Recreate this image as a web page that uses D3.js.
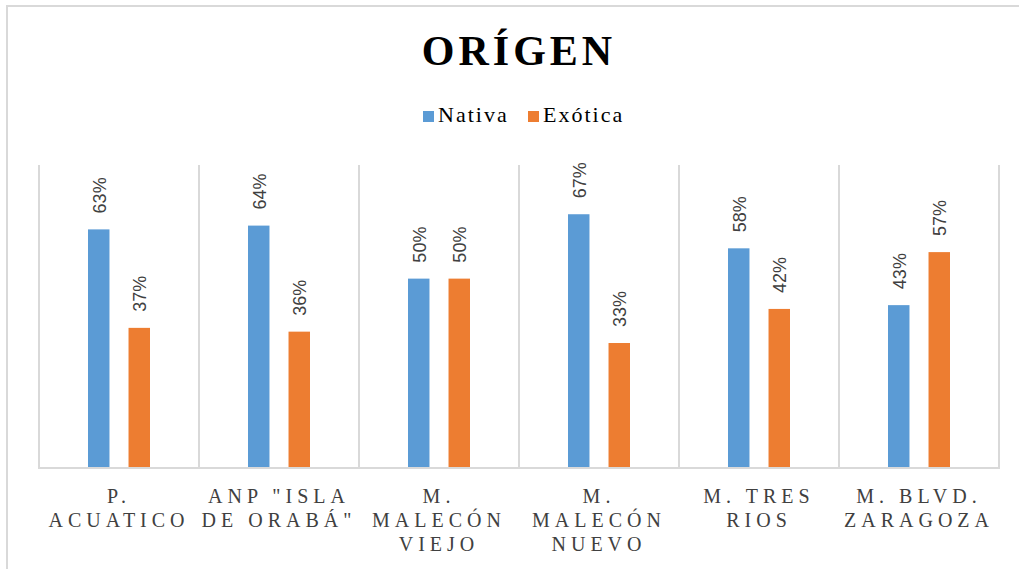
<!DOCTYPE html>
<html>
<head>
<meta charset="utf-8">
<script src="https://cdn.jsdelivr.net/npm/d3@7"></script>
<style>
  html, body { margin: 0; padding: 0; background: #fff; }
  svg { display: block; }
</style>
</head>
<body>
<svg id="chart" width="1019" height="569"></svg>
<script>
const title = "ORÍGEN";
const categories = ["P. ACUATICO", "ANP \"ISLA DE ORABÁ\"", "M. MALECÓN VIEJO", "M. MALECÓN NUEVO", "M. TRES RIOS", "M. BLVD. ZARAGOZA"];
const categoryLines = [
  ["P.", "ACUATICO"],
  ["ANP \"ISLA", "DE ORABÁ\""],
  ["M.", "MALECÓN", "VIEJO"],
  ["M.", "MALECÓN", "NUEVO"],
  ["M. TRES", "RIOS"],
  ["M. BLVD.", "ZARAGOZA"]
];
const seriesNames = ["Nativa", "Exótica"];
const nativa = [0.63, 0.64, 0.50, 0.67, 0.58, 0.43];
const exotica = [0.37, 0.36, 0.50, 0.33, 0.42, 0.57];
const colors = ["#5B9BD5", "#ED7D31"];

const svg = d3.select("#chart");
const W = 1019, H = 569;
const plot = { left: 39, right: 999, top: 165, bottom: 468 };
const grid = "#d9d9d9";

// outer chart border (only top/left visible)
svg.append("rect").attr("x", 7).attr("y", 6).attr("width", W + 20).attr("height", H + 20)
  .attr("fill", "#fff").attr("stroke", grid).attr("stroke-width", 2);

const x = d3.scaleBand().domain(categories).range([plot.left, plot.right]).padding(0);
const bw = x.bandwidth();
const xs = d3.scaleBand().domain(seriesNames).range([bw * 0.30625, bw * 0.69375]).paddingInner(0.47);
const y = d3.scaleLinear().domain([0, 0.8]).range([plot.bottom, plot.top]);

// vertical separators at category boundaries
const bounds = categories.map(c => x(c)).concat([plot.right]);
svg.append("g").selectAll("line").data(bounds).join("line")
  .attr("x1", d => d).attr("x2", d => d)
  .attr("y1", plot.top).attr("y2", plot.bottom)
  .attr("stroke", grid).attr("stroke-width", 2);

// baseline
svg.append("line").attr("x1", plot.left - 1).attr("x2", plot.right + 1)
  .attr("y1", plot.bottom).attr("y2", plot.bottom)
  .attr("stroke", grid).attr("stroke-width", 2);

const data = categories.map((c, i) => ({ cat: c, vals: [nativa[i], exotica[i]] }));

const groups = svg.append("g").selectAll("g").data(data).join("g")
  .attr("transform", d => `translate(${x(d.cat)},0)`);

groups.selectAll("rect").data(d => d.vals.map((v, j) => ({ s: seriesNames[j], v, j })))
  .join("rect")
  .attr("x", d => xs(d.s))
  .attr("width", xs.bandwidth())
  .attr("y", d => y(d.v))
  .attr("height", d => plot.bottom - 1 - y(d.v))
  .attr("fill", d => colors[d.j]);

groups.selectAll("text.lbl").data(d => d.vals.map((v, j) => ({ s: seriesNames[j], v, j })))
  .join("text").attr("class", "lbl")
  .attr("transform", d => `translate(${xs(d.s) + xs.bandwidth() / 2 + 1},${y(d.v) - 16}) rotate(-90)`)
  .attr("text-anchor", "start")
  .attr("dominant-baseline", "central")
  .attr("font-family", "Liberation Sans, Arial, sans-serif")
  .attr("font-size", 18)
  .attr("fill", "#404040")
  .text(d => d3.format(".0%")(d.v));

// category axis labels
const axisG = svg.append("g");
categories.forEach((c, i) => {
  const t = axisG.append("text")
    .attr("x", x(c) + bw / 2)
    .attr("y", 503)
    .attr("text-anchor", "middle")
    .attr("font-family", "Liberation Serif, Times New Roman, serif")
    .attr("font-size", 20)
    .attr("letter-spacing", 5)
    .attr("fill", "#404040");
  categoryLines[i].forEach((ln, k) => {
    t.append("tspan").attr("x", x(c) + bw / 2).attr("dy", k === 0 ? 0 : 24).text(ln);
  });
});

// title
svg.append("text")
  .attr("x", (plot.left + plot.right) / 2)
  .attr("y", 65)
  .attr("text-anchor", "middle")
  .attr("font-family", "Liberation Serif, Times New Roman, serif")
  .attr("font-weight", "bold")
  .attr("font-size", 42)
  .attr("letter-spacing", 4)
  .attr("fill", "#000")
  .text(title);

// legend
const legendX = [423, 528];
const legend = svg.append("g");
seriesNames.forEach((s, i) => {
  legend.append("rect").attr("x", legendX[i]).attr("y", 111).attr("width", 11).attr("height", 11)
    .attr("fill", colors[i]);
  legend.append("text").attr("x", legendX[i] + 15).attr("y", 122)
    .attr("font-family", "Liberation Serif, Times New Roman, serif")
    .attr("font-size", 22)
    .attr("letter-spacing", 2)
    .attr("fill", "#000")
    .text(s);
});
</script>
</body>
</html>
